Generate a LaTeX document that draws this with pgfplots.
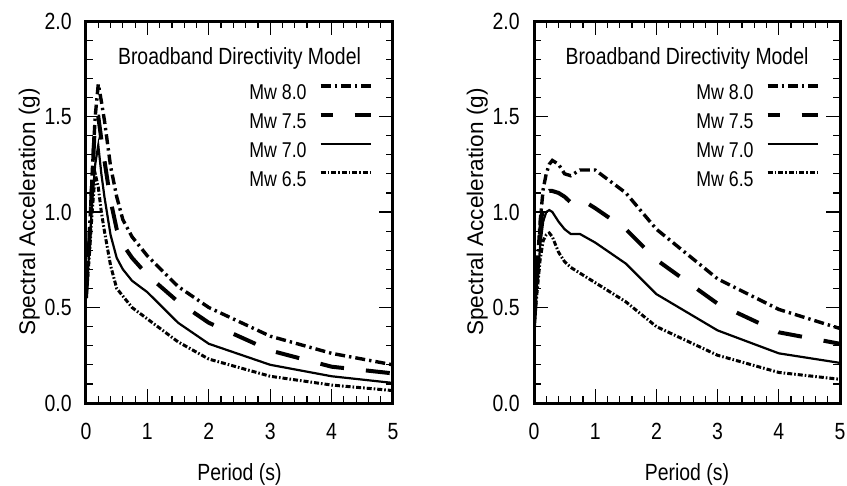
\documentclass[border=0pt]{standalone}
\usepackage{fontspec}
\setmainfont{Liberation Sans}[FakeStretch=0.83]
\newfontfamily\ylabfont{Liberation Sans}
\usepackage{pgfplots}
\pgfplotsset{compat=1.18}
\usepackage{pgfplotstable}
\usetikzlibrary{calc}

\pgfplotstableread{
T    m80   m75   m70   m65
0    0.55  0.55  0.55  0.55
0.05 0.85  0.82  0.78  0.75
0.1  1.20  1.15  1.05  1.00
0.15 1.50  1.50  1.25  1.20
0.2  1.67  1.50  1.35  1.13
0.25 1.58  1.38  1.20  1.00
0.3  1.48  1.27  1.08  0.90
0.4  1.24  1.06  0.88  0.72
0.5  1.08  0.91  0.76  0.60
0.6  0.96  0.83  0.70  0.56
0.75 0.87  0.76  0.64  0.50
1.0  0.77  0.67  0.58  0.44
1.5  0.61  0.53  0.42  0.32
2.0  0.50  0.42  0.31  0.23
3.0  0.35  0.275 0.20  0.14
4.0  0.26  0.19  0.14  0.094
5.0  0.20  0.155 0.105 0.065
}\leftdata

\pgfplotstableread{
T    m80   m75   m70   m65
0    0.40  0.40  0.40  0.40
0.05 0.70  0.65  0.62  0.58
0.1  0.95  0.90  0.82  0.75
0.15 1.12  1.05  0.95  0.85
0.2  1.20  1.10  1.00  0.88
0.25 1.25  1.11  1.01  0.89
0.3  1.27  1.11  1.00  0.87
0.4  1.25  1.10  0.95  0.79
0.5  1.20  1.08  0.91  0.74
0.6  1.19  1.05  0.885 0.71
0.75 1.22  1.07  0.885 0.68
1.0  1.22  1.02  0.84  0.63
1.5  1.10  0.91  0.73  0.53
2.0  0.91  0.75  0.57  0.40
3.0  0.65  0.52  0.38  0.25
4.0  0.49  0.37  0.26  0.16
5.0  0.39  0.31  0.21  0.124
}\rightdata

\pgfplotsset{
  panel/.style={
    scale only axis, width=153.5pt, height=191pt,
    xmin=0, xmax=5, ymin=0, ymax=2,
    xtick={0,1,2,3,4,5}, ytick={0,0.5,1,1.5,2},
    minor x tick num=4, minor y tick num=4,
    tick align=inside,
    axis line style={line width=1.5pt},
    major tick length=7pt, minor tick length=3.5pt,
    every tick/.style={line width=0.6pt, black},
    /pgf/number format/assume math mode=true,
    tick label style={font=\fontsize{11.7pt}{13pt}\selectfont},
    yticklabel style={/pgf/number format/fixed, /pgf/number format/fixed zerofill, /pgf/number format/precision=1,
      anchor=east, inner sep=0pt, xshift=-7pt},
    xticklabel style={anchor=base, inner sep=0pt, yshift=-18pt},
    xlabel={Period (s)},
    xlabel style={at={(rel axis cs:0.5,0)}, anchor=base, inner sep=0pt, yshift=-38.5pt,
      font=\fontsize{11.7pt}{13pt}\selectfont},
    ylabel={Spectral Acceleration (g)},
    ylabel style={at={($(rel axis cs:0,0.5)+(-25.5pt,0pt)$)}, anchor=base, inner sep=0pt,
      font=\ylabfont\fontsize{11.3pt}{13pt}\selectfont},
    legend style={draw=none, fill=none, at={(rel axis cs:1,1)}, anchor=north east,
      xshift=-10pt, yshift=-31.5pt, inner sep=0pt, row sep=5.3pt, column sep=6pt,
      nodes={inner sep=0pt}, font=\fontsize{10.7pt}{12pt}\selectfont},
    legend plot pos=right,
    legend cell align=right,
    legend image code/.code={\draw[#1] (0pt,3.85pt) -- (25pt,3.85pt);},
  },
  s80/.style={black, line width=1.7pt, dash pattern=on 5pt off 2pt on 1.2pt off 2pt},
  s75/.style={black, line width=2pt, dash pattern=on 12pt off 11pt, legend image post style={dash phase=6pt}},
  s70/.style={black, line width=1.1pt},
  s65/.style={black, line width=1.5pt, dash pattern=on 2.5pt off 1pt on 0.8pt off 1pt},
}

\begin{document}
\begin{tikzpicture}
\useasboundingbox (0pt,0pt) rectangle (423.5pt,-243pt);
\begin{axis}[panel, at={(43pt,-201.5pt)}, anchor=south west]
  \addplot[s80] table[x=T,y=m80] {\leftdata};
  \addlegendentry{Mw 8.0}
  \addplot[s75] table[x=T,y=m75] {\leftdata};
  \addlegendentry{Mw 7.5}
  \addplot[s70] table[x=T,y=m70] {\leftdata};
  \addlegendentry{Mw 7.0}
  \addplot[s65] table[x=T,y=m65] {\leftdata};
  \addlegendentry{Mw 6.5}
  \node[anchor=base, font=\fontsize{11.7pt}{13pt}\selectfont] at (axis cs:2.5,1.77) {Broadband Directivity Model};
\end{axis}
\begin{axis}[panel, at={(267pt,-201.5pt)}, anchor=south west, width=153pt]
  \addplot[s80] table[x=T,y=m80] {\rightdata};
  \addlegendentry{Mw 8.0}
  \addplot[s75] table[x=T,y=m75] {\rightdata};
  \addlegendentry{Mw 7.5}
  \addplot[s70] table[x=T,y=m70] {\rightdata};
  \addlegendentry{Mw 7.0}
  \addplot[s65] table[x=T,y=m65] {\rightdata};
  \addlegendentry{Mw 6.5}
  \node[anchor=base, font=\fontsize{11.7pt}{13pt}\selectfont] at (axis cs:2.5,1.77) {Broadband Directivity Model};
\end{axis}
\end{tikzpicture}
\end{document}
